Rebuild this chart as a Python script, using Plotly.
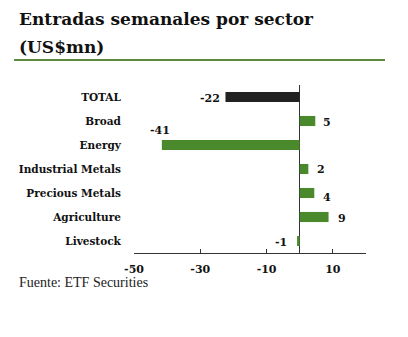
import plotly.graph_objects as go

categories = ["TOTAL", "Broad", "Energy", "Industrial Metals", "Precious Metals", "Agriculture", "Livestock"]
values = [-22.4, 4.7, -41.6, 2.6, 4.4, 8.7, -0.8]
labels = ["-22", "5", "-41", "2", "4", "9", "-1"]
x_ticks = [-50, -30, -10, 10]
x_tick_text = ["-50", "-30", "-10", "10"]

GREEN = "#4a8a2c"
DARK = "#222222"
colors = [DARK] + [GREEN] * (len(categories) - 1)

# label offsets (pixels) per bar: (xanchor, xshift, yshift)
label_style = [
    ("right", -3, -1),
    ("left", 6, -1),
    ("center", -2, 15),
    ("left", 7, 0),
    ("left", 7, -4),
    ("left", 7, -1),
    ("right", -8, -1),
]

fig = go.Figure()
fig.add_trace(go.Bar(
    x=values, y=categories, orientation="h",
    marker=dict(color=colors, line=dict(width=0)),
    width=0.42, hoverinfo="skip",
))

W, H = 408, 337
ml, mr, mt, mb = 134, 42, 85, 84
pw, ph = W - ml - mr, H - mt - mb

def px(x):
    return (x - ml) / pw

def py(y):
    return (H - mb - y) / ph

annotations = []
for cat, v, lab, (xa, xs, ys) in zip(categories, values, labels, label_style):
    annotations.append(dict(
        x=v, y=cat, xref="x", yref="y", text=lab, showarrow=False,
        xanchor=xa, yanchor="middle", xshift=xs, yshift=ys,
        font=dict(family="DejaVu Serif", size=11, color="#111111", weight="bold"),
    ))

annotations.append(dict(
    x=px(17), y=py(19), xref="paper", yref="paper", xanchor="left", yanchor="middle",
    text="<b>Entradas semanales por sector</b>", showarrow=False,
    font=dict(family="DejaVu Serif", size=17, color="#111111"),
))
annotations.append(dict(
    x=px(17), y=py(47.5), xref="paper", yref="paper", xanchor="left", yanchor="middle",
    text="<b>(US$mn)</b>", showarrow=False,
    font=dict(family="DejaVu Serif", size=17, color="#111111"),
))
annotations.append(dict(
    x=px(17), y=py(282), xref="paper", yref="paper", xanchor="left", yanchor="middle",
    text="Fuente: ETF Securities", showarrow=False,
    font=dict(family="Liberation Serif", size=14, color="#222222"),
))

fig.update_layout(
    width=W, height=H,
    margin=dict(l=ml, r=mr, t=mt, b=mb, pad=0),
    paper_bgcolor="white", plot_bgcolor="white",
    showlegend=False,
    annotations=annotations,
    shapes=[dict(type="line", xref="paper", yref="paper",
                 x0=px(14), x1=px(385), y0=py(60), y1=py(60),
                 line=dict(color="#5b8a3e", width=2))],
    xaxis=dict(
        range=[-50, 20], tickvals=x_ticks, ticktext=x_tick_text, showgrid=False,
        showline=True, linecolor="#333333", linewidth=1,
        ticks="inside", ticklen=4, tickcolor="#333333", tickwidth=1,
        zeroline=True, zerolinecolor="#333333", zerolinewidth=1,
        tickfont=dict(family="DejaVu Serif", size=11, color="#111111", weight="bold"),
        ticklabelstandoff=6, fixedrange=True,
    ),
    yaxis=dict(
        categoryorder="array", categoryarray=categories, autorange="reversed",
        showgrid=False, showline=False, zeroline=False,
        ticks="outside", ticklen=10, tickcolor="rgba(0,0,0,0)",
        tickfont=dict(family="DejaVu Serif", size=10.5, color="#111111", weight="bold"),
        fixedrange=True,
    ),
)

fig.write_html("out.html")
